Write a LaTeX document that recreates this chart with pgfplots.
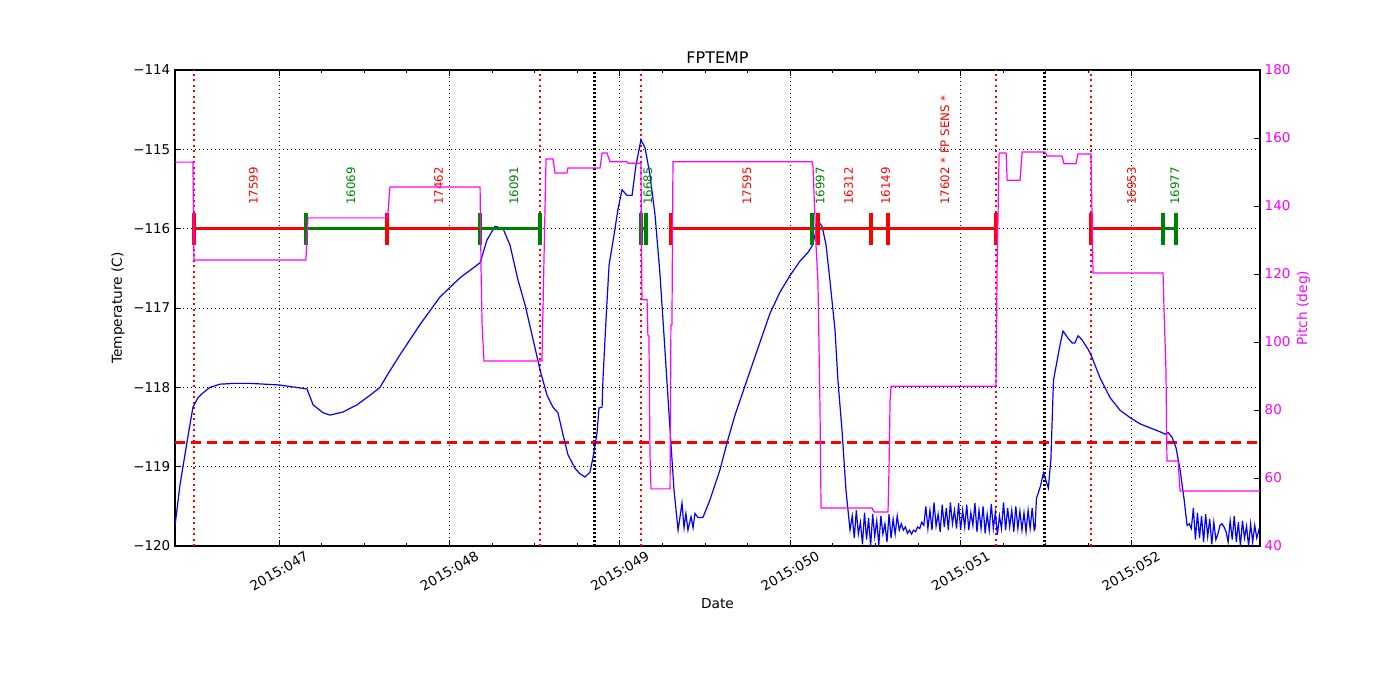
\documentclass[border=0pt]{standalone}
\usepackage{fontspec}
\setmainfont{DejaVu Sans}
\usepackage{pgfplots}
\pgfplotsset{compat=1.18}
\definecolor{mplgreen}{rgb}{0,0.5,0}
\definecolor{mplmagenta}{rgb}{1,0,1}
\definecolor{mplred}{rgb}{1,0,0}
\definecolor{mplblue}{rgb}{0,0,1}

% 1 px of the reference = 0.75pt
\pgfplotsset{
  fpaxis/.style={
    scale only axis, width=813.75pt, height=357pt,
    at={(0pt,0pt)}, anchor=south west,
    xmin=46.3897, xmax=52.757,
    tick align=inside,
    major tick length=4.5pt, minor tick length=2.5pt,
    every tick/.style={black, line width=0.6pt},
    axis line style={black, line width=0.8pt},
    tick label style={font=\fontsize{10.1}{12}\selectfont},
    label style={font=\fontsize{10.3}{12}\selectfont},
    /pgf/number format/assume math mode=true,
  },
  seg/.style={line width=2.2pt, mark=|, mark size=12pt, mark options={line width=2.4pt}},
  vred/.style={mplred, line width=1.6pt, dash pattern=on 1.5pt off 2.6pt},
  vblack/.style={black, line width=2.2pt, dash pattern=on 1.5pt off 1.5pt},
}

\begin{document}
\begin{tikzpicture}
\useasboundingbox (-131.25pt,-115.5pt) rectangle (918.75pt,409.5pt);

\begin{axis}[fpaxis,
  ymin=-120, ymax=-114,
  ytick={-120,-119,-118,-117,-116,-115,-114},
  yticklabels={−120,−119,−118,−117,−116,−115,−114},
  ytick pos=left,
  xtick={47,48,49,50,51,52},
  xticklabels={2015:047,2015:048,2015:049,2015:050,2015:051,2015:052},
  minor x tick num=3,
  grid=major,
  major grid style={black, line width=0.5pt, dash pattern=on 0.75pt off 2.25pt},
  xticklabel style={rotate=30, anchor=center, xshift=-9.4pt, yshift=-16.3pt},
  title={FPTEMP},
  title style={anchor=center, yshift=3.6pt, font=\fontsize{12}{14}\selectfont},
  xlabel={Date},
  xlabel style={at={(axis description cs:0.5,0)}, anchor=center, yshift=-43.3pt},
  ylabel={Temperature (C)},
  ylabel style={at={(axis description cs:0,0.5)}, anchor=center, yshift=42.75pt},
]
% vertical markers
\addplot[vred] coordinates {(46.501,-120) (46.501,-114)};
\addplot[vred] coordinates {(48.532,-120) (48.532,-114)};
\addplot[vred] coordinates {(49.124,-120) (49.124,-114)};
\addplot[vred] coordinates {(51.208,-120) (51.208,-114)};
\addplot[vred] coordinates {(51.765,-120) (51.765,-114)};
\addplot[vblack] coordinates {(48.849,-120) (48.849,-114)};
\addplot[vblack] coordinates {(51.495,-120) (51.495,-114)};
% limit line
\addplot[mplred, line width=2.4pt, dash pattern=on 7.5pt off 4.5pt] coordinates {(46.3897,-118.70) (52.757,-118.70)};

% temperature
\addplot[mplblue, line width=0.9pt] coordinates {
(46.390,-119.74) (46.419,-119.23) (46.448,-118.85) (46.472,-118.54) (46.495,-118.25)
(46.525,-118.13) (46.554,-118.07) (46.595,-118.00) (46.654,-117.96) (46.742,-117.95)
(46.830,-117.95) (47.000,-117.97) (47.164,-118.02) (47.200,-118.22) (47.258,-118.32)
(47.299,-118.35) (47.376,-118.31) (47.458,-118.22) (47.534,-118.10) (47.593,-118.00)
(47.634,-117.85) (47.710,-117.59) (47.827,-117.21) (47.945,-116.86) (48.062,-116.62)
(48.180,-116.43) (48.221,-116.14) (48.268,-115.97) (48.315,-116.00) (48.356,-116.21)
(48.403,-116.65) (48.444,-116.96) (48.485,-117.34) (48.532,-117.78) (48.573,-118.10)
(48.608,-118.25) (48.637,-118.32) (48.667,-118.60) (48.696,-118.85) (48.737,-119.02)
(48.766,-119.09) (48.796,-119.13) (48.825,-119.07) (48.843,-118.88) (48.866,-118.58)
(48.878,-118.26) (48.896,-118.25) (48.901,-117.91) (48.919,-117.15) (48.937,-116.46)
(48.966,-116.08) (48.989,-115.76) (49.013,-115.51) (49.042,-115.58) (49.072,-115.58)
(49.095,-115.20) (49.124,-114.88) (49.148,-114.98) (49.177,-115.32) (49.207,-115.83)
(49.236,-116.58) (49.265,-117.53) (49.295,-118.54) (49.318,-119.29) (49.342,-119.80)
(49.365,-119.46) (49.377,-119.77) (49.388,-119.59) (49.400,-119.80) (49.418,-119.63)
(49.430,-119.77) (49.441,-119.59) (49.459,-119.64) (49.488,-119.64) (49.529,-119.42)
(49.588,-119.04) (49.629,-118.70) (49.676,-118.35) (49.746,-117.91) (49.823,-117.43)
(49.881,-117.07) (49.940,-116.80) (49.999,-116.59) (50.057,-116.41) (50.104,-116.30)
(50.128,-116.22) (50.151,-116.04) (50.169,-115.92) (50.187,-115.97) (50.210,-116.20)
(50.233,-116.65) (50.263,-117.28) (50.280,-117.91) (50.304,-118.54) (50.327,-119.29)
(50.351,-119.80)
(50.364,-119.62) (50.376,-119.90) (50.388,-119.55) (50.400,-119.85) (50.412,-119.70)
(50.424,-119.98) (50.436,-119.58) (50.448,-119.92) (50.460,-119.65) (50.472,-120.00)
(50.484,-119.60) (50.496,-119.88) (50.508,-119.68) (50.520,-119.99) (50.532,-119.62)
(50.544,-119.85) (50.556,-119.72) (50.568,-119.95) (50.580,-119.60) (50.592,-119.90)
(50.604,-119.66) (50.616,-119.85) (50.628,-119.62) (50.640,-119.80)
(50.652,-119.72) (50.664,-119.80) (50.676,-119.76) (50.688,-119.84) (50.700,-119.80)
(50.712,-119.85) (50.724,-119.80) (50.736,-119.82) (50.748,-119.76) (50.760,-119.78)
(50.772,-119.70) (50.784,-119.74)
(50.796,-119.50) (50.808,-119.78) (50.820,-119.55) (50.832,-119.80) (50.844,-119.45)
(50.856,-119.75) (50.868,-119.60) (50.880,-119.82) (50.892,-119.48) (50.904,-119.76)
(50.916,-119.52) (50.928,-119.80) (50.940,-119.45) (50.952,-119.72) (50.964,-119.55)
(50.976,-119.78) (50.988,-119.46) (51.000,-119.80) (51.012,-119.55) (51.024,-119.76)
(51.036,-119.48) (51.048,-119.80) (51.060,-119.58) (51.072,-119.74) (51.084,-119.46)
(51.096,-119.82) (51.108,-119.55) (51.120,-119.78) (51.132,-119.50) (51.144,-119.84)
(51.156,-119.60) (51.168,-119.80) (51.180,-119.47) (51.192,-119.78) (51.204,-119.58)
(51.216,-119.86) (51.228,-119.62) (51.240,-119.78) (51.252,-119.45) (51.264,-119.80)
(51.276,-119.52) (51.288,-119.76) (51.300,-119.55) (51.312,-119.82) (51.324,-119.50)
(51.336,-119.78) (51.348,-119.56) (51.360,-119.80) (51.372,-119.58) (51.384,-119.82)
(51.396,-119.55) (51.408,-119.78) (51.420,-119.52) (51.432,-119.80)
(51.437,-119.78) (51.445,-119.40) (51.468,-119.25) (51.486,-119.08) (51.515,-119.27)
(51.530,-118.90) (51.545,-117.91) (51.583,-117.47) (51.601,-117.29) (51.630,-117.38)
(51.654,-117.44) (51.671,-117.44) (51.689,-117.35) (51.712,-117.40) (51.748,-117.52)
(51.765,-117.59) (51.818,-117.88) (51.877,-118.13) (51.936,-118.29) (52.000,-118.39)
(52.053,-118.46) (52.111,-118.51) (52.170,-118.56) (52.200,-118.59) (52.218,-118.57)
(52.241,-118.63) (52.264,-118.76) (52.288,-119.04) (52.312,-119.42) (52.329,-119.74)
(52.342,-119.72) (52.354,-119.78) (52.366,-119.52) (52.378,-119.92) (52.390,-119.58)
(52.402,-119.90) (52.414,-119.62) (52.426,-119.95) (52.438,-119.60) (52.450,-119.88)
(52.462,-119.66) (52.474,-119.98) (52.486,-119.70) (52.498,-119.92) (52.510,-119.85)
(52.522,-119.74) (52.534,-119.72) (52.546,-119.76) (52.558,-119.82) (52.570,-119.95)
(52.582,-119.68) (52.594,-119.92) (52.606,-119.62) (52.618,-119.95) (52.630,-119.70)
(52.642,-120.00) (52.654,-119.68) (52.666,-119.90) (52.678,-119.75) (52.690,-120.00)
(52.702,-119.72) (52.714,-119.95) (52.726,-119.74) (52.738,-119.90) (52.750,-119.80)
(52.757,-119.85)
};

% observation intervals
\addplot[seg, mplred] coordinates {(46.501,-116) (47.158,-116)};
\addplot[seg, mplgreen] coordinates {(47.158,-116) (47.634,-116)};
\addplot[seg, mplred] coordinates {(47.634,-116) (48.180,-116)};
\addplot[seg, mplgreen] coordinates {(48.180,-116) (48.532,-116)};
\addplot[seg, mplgreen] coordinates {(49.124,-116) (49.154,-116)};
\addplot[seg, mplred] coordinates {(49.300,-116) (50.128,-116)};
\addplot[seg, mplgreen] coordinates {(50.128,-116) (50.163,-116)};
\addplot[seg, mplred] coordinates {(50.163,-116) (50.474,-116)};
\addplot[seg, mplred] coordinates {(50.474,-116) (50.574,-116)};
\addplot[seg, mplred] coordinates {(50.574,-116) (51.208,-116)};
\addplot[seg, mplred] coordinates {(51.765,-116) (52.188,-116)};
\addplot[seg, mplgreen] coordinates {(52.188,-116) (52.264,-116)};

\begin{scope}[every node/.style={rotate=90, anchor=west, inner sep=0pt,
    font=\fontsize{8.8}{10}\selectfont}]
\node[mplred] at (axis cs:46.850,-115.70) {17599};
\node[mplgreen] at (axis cs:47.421,-115.70) {16069};
\node[mplred] at (axis cs:47.937,-115.70) {17462};
\node[mplgreen] at (axis cs:48.378,-115.70) {16091};
\node[mplgreen] at (axis cs:49.164,-115.70) {16685};
\node[mplred] at (axis cs:49.745,-115.70) {17595};
\node[mplgreen] at (axis cs:50.175,-115.70) {16997};
\node[mplred] at (axis cs:50.343,-115.70) {16312};
\node[mplred] at (axis cs:50.560,-115.70) {16149};
\node[mplred] at (axis cs:50.908,-115.70) {17602 * FP SENS *};
\node[mplred] at (axis cs:52.004,-115.70) {16953};
\node[mplgreen] at (axis cs:52.258,-115.70) {16977};
\end{scope}
\end{axis}

\begin{axis}[fpaxis,
  ymin=40, ymax=180,
  ytick={40,60,80,100,120,140,160,180},
  axis y line*=right,
  axis x line=none,
  yticklabel style={mplmagenta},
  ylabel={Pitch (deg)},
  ylabel style={mplmagenta, at={(axis description cs:1,0.5)}, anchor=center, yshift=-32.5pt},
]
\addplot[mplmagenta, line width=0.9pt] coordinates {
(46.390,152.9) (46.495,152.9) (46.501,124.1) (47.158,124.1) (47.170,136.5)
(47.634,136.5) (47.640,138.2) (47.651,145.6) (48.180,145.6) (48.186,120.6)
(48.192,105.0) (48.203,94.4) (48.543,94.4) (48.555,124.1) (48.567,153.8)
(48.608,153.8) (48.620,149.7) (48.690,149.7) (48.696,151.2) (48.884,151.2)
(48.896,155.6) (48.925,155.6) (48.942,153.0) (49.042,153.0) (49.048,152.6)
(49.124,152.6) (49.130,112.4) (49.160,112.4) (49.165,101.8) (49.171,101.8)
(49.177,67.4) (49.183,56.8) (49.295,56.8) (49.300,105.0) (49.306,105.0)
(49.312,153.0) (50.128,153.0) (50.134,151.5) (50.151,128.8) (50.163,117.6)
(50.175,80.0) (50.181,51.2) (50.480,51.2) (50.492,50.0) (50.574,50.0)
(50.580,63.0) (50.586,82.6) (50.592,87.0) (51.208,87.0) (51.214,121.2)
(51.226,155.6) (51.267,155.6) (51.273,147.6) (51.349,147.6) (51.361,155.9)
(51.495,155.9) (51.507,154.7) (51.595,154.7) (51.607,152.4) (51.677,152.4)
(51.689,155.3) (51.765,155.3) (51.777,120.3) (52.188,120.3) (52.194,109.0)
(52.205,92.0) (52.211,65.0) (52.276,65.0) (52.288,56.2) (52.757,56.2)
};
\end{axis}
\end{tikzpicture}
\end{document}
